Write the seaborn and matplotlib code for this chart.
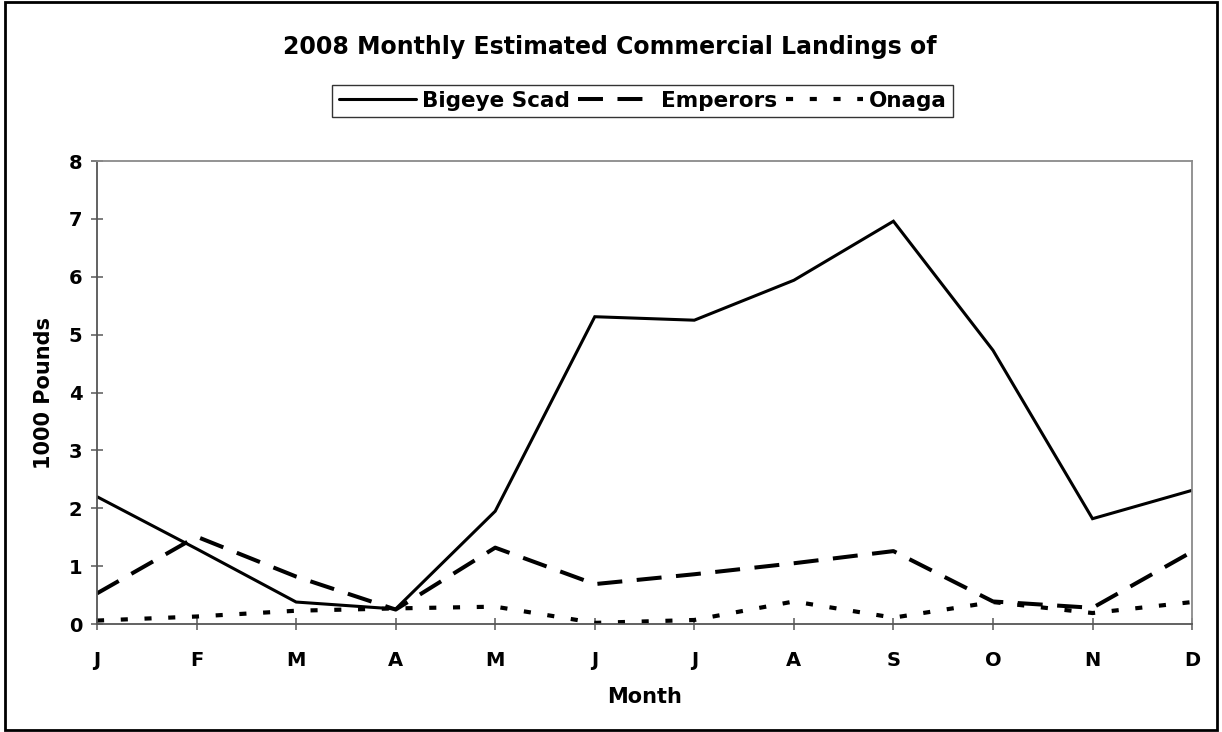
import matplotlib
matplotlib.use("Agg")
import matplotlib.pyplot as plt
import seaborn as sns
import pandas as pd
from matplotlib.patches import Rectangle

months = ["J", "F", "M", "A", "M", "J", "J", "A", "S", "O", "N", "D"]
bigeye_scad = [2.2, 1.3, 0.38, 0.26, 1.95, 5.31, 5.25, 5.94, 6.96, 4.73, 1.82, 2.31]
emperors = [0.53, 1.51, 0.82, 0.25, 1.32, 0.69, 0.86, 1.05, 1.26, 0.39, 0.28, 1.25]
onaga = [0.06, 0.13, 0.23, 0.27, 0.3, 0.02, 0.07, 0.39, 0.11, 0.38, 0.19, 0.38]
series_names = ["Bigeye Scad", "Emperors", "Onaga"]

sns.set_style("white", rc={"text.color": "black", "axes.labelcolor": "black",
                           "xtick.color": "black", "ytick.color": "black",
                           "xtick.bottom": True, "ytick.left": True})
plt.rcParams["font.family"] = ["DejaVu Sans"]
plt.rcParams["font.weight"] = "bold"

fig = plt.figure(figsize=(12.22, 7.32), dpi=100)
ax = fig.add_axes([0.0794, 0.1475, 0.8961, 0.6325])

# line width (pt) and dash pattern (in line-width units) for each species
styles = {
    "Bigeye Scad": (2.2, None),
    "Emperors": (2.9, (6.2, 3.6)),
    "Onaga": (3.0, (1.7, 4.0)),
}

for name, vals in zip(series_names, [bigeye_scad, emperors, onaga]):
    d = pd.DataFrame({"Month": range(len(months)), "Value": vals})
    lw, dash = styles[name]
    sns.lineplot(data=d, x="Month", y="Value", color="black", linewidth=lw,
                 ax=ax, label=name, sort=False)
    line = ax.lines[-1]
    if dash is not None:
        line.set_dashes(dash)
    line.set_dash_capstyle("butt")
    line.set_solid_joinstyle("miter")

ax.set_xlim(0, len(months) - 1)
ax.set_ylim(0, 8)
ax.set_xticks(range(len(months)))
ax.set_xticklabels(months)
ax.set_yticks(range(0, 9))

for side in ["left", "bottom", "top", "right"]:
    ax.spines[side].set_visible(True)
    ax.spines[side].set_color("#8a8a8a")
    ax.spines[side].set_linewidth(1.3)
ax.spines["left"].set_color("#555555")
ax.spines["bottom"].set_color("#555555")

ax.tick_params(axis="both", direction="inout", length=9, width=1.2, color="#666666",
               labelsize=14)
ax.tick_params(axis="y", pad=6)
ax.tick_params(axis="x", pad=15)
for lbl in ax.get_xticklabels() + ax.get_yticklabels():
    lbl.set_fontweight("bold")

ax.set_xlabel("Month", fontsize=15, fontweight="bold", labelpad=12)
ax.set_ylabel("1000 Pounds", fontsize=15, fontweight="bold", labelpad=11)

fig.text(0.499, 0.936, "2008 Monthly Estimated Commercial Landings of",
         ha="center", va="center", fontsize=17, fontweight="bold")

handles, labels = ax.get_legend_handles_labels()
ax.get_legend().remove()
leg = fig.legend(handles, labels, loc="center", bbox_to_anchor=(0.5258, 0.862),
                 ncol=3, fontsize=15.5, frameon=True, fancybox=False, shadow=False,
                 handlelength=3.6, handletextpad=0.25, columnspacing=0.4,
                 borderpad=0.3, borderaxespad=0)
leg.get_frame().set_edgecolor("black")
leg.get_frame().set_linewidth(1.0)
for t in leg.get_texts():
    t.set_fontweight("bold")

fig.patches.append(Rectangle((0.004, 0.003), 0.992, 0.994, transform=fig.transFigure,
                             fill=False, edgecolor="black", linewidth=2.0))

fig.savefig("out.png", dpi=100)
